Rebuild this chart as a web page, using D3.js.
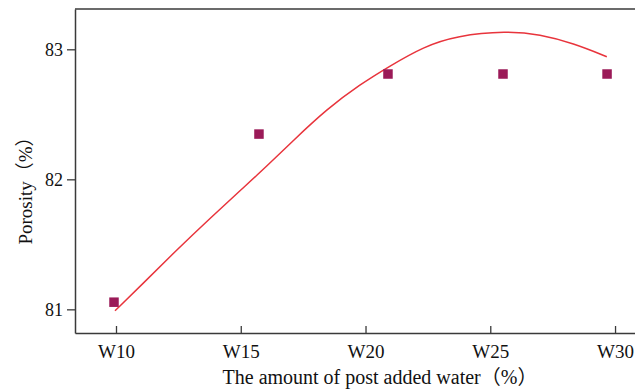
<!DOCTYPE html>
<html>
<head>
<meta charset="utf-8">
<script src="https://cdn.jsdelivr.net/npm/d3@7"></script>
<style>
  html, body { margin: 0; padding: 0; background: #fff; }
  svg { display: block; }
  text { font-family: "Liberation Serif", "Times New Roman", "Noto Sans CJK SC", serif; fill: #111; }
</style>
</head>
<body>
<svg id="chart" width="635" height="390"></svg>
<script>
// ---- data ----
const tickValues = [10, 15, 20, 25, 30];
const tickLabels = ["W10", "W15", "W20", "W25", "W30"];
const yTicks = [81, 82, 83];

// measured points (x in % post-added water, y porosity %)
const pointX = [9.92, 15.73, 20.90, 25.51, 29.68];
const pointY = [81.055, 82.348, 82.81, 82.81, 82.81];

// fitted curve
const curveX = [9.96, 11.09, 12.43, 13.77, 15.10, 16.04, 17.11, 18.45, 19.78, 20.98, 22.32, 23.66, 25.66, 26.99, 28.33, 29.67];
const curveY = [80.989, 81.20, 81.456, 81.70, 81.935, 82.10, 82.30, 82.54, 82.73, 82.872, 83.02, 83.105, 83.141, 83.115, 83.046, 82.943];

const xTitle = "The amount of post added water（%）";
const yTitle = "Porosity（%）";

// ---- layout ----
const mLeft = 75, mTop = 9, mBottom = 333, mRight = 635;

const x = d3.scaleLinear().domain([8.357, 30.8]).range([mLeft, mRight]);
const y = d3.scaleLinear().domain([80.818, 83.31]).range([mBottom, mTop]);

const svg = d3.select("#chart");
const axisColor = "#3a3a3a";

// frame top line
svg.append("line").attr("x1", mLeft).attr("x2", mRight).attr("y1", mTop).attr("y2", mTop)
  .attr("stroke", axisColor).attr("stroke-width", 1.5);

// x axis (ticks inward)
const xAxis = d3.axisBottom(x).tickValues(tickValues)
  .tickFormat((d, i) => tickLabels[i]).tickSizeInner(-7).tickSizeOuter(0).tickPadding(12);
const gx = svg.append("g").attr("transform", `translate(0,${mBottom})`).call(xAxis);
gx.select(".domain").attr("stroke", axisColor).attr("stroke-width", 1.5);
gx.selectAll(".tick line").attr("stroke", axisColor).attr("stroke-width", 1.3);
gx.selectAll(".tick text").style("font-size", "19px").attr("fill", "#111");

// y axis (ticks outward)
const yAxis = d3.axisLeft(y).tickValues(yTicks).tickFormat(d3.format("d"))
  .tickSizeInner(8).tickSizeOuter(0).tickPadding(4);
const gy = svg.append("g").attr("transform", `translate(${mLeft},0)`).call(yAxis);
gy.select(".domain").attr("stroke", axisColor).attr("stroke-width", 1.5);
gy.selectAll(".tick line").attr("stroke", axisColor).attr("stroke-width", 1.3);
gy.selectAll(".tick text").style("font-size", "18px").attr("fill", "#111");

// fitted curve
const curveData = curveX.map((v, i) => [v, curveY[i]]);
svg.append("path")
  .datum(curveData)
  .attr("fill", "none")
  .attr("stroke", "#e8343c")
  .attr("stroke-width", 1.5)
  .attr("d", d3.line().x(d => x(d[0])).y(d => y(d[1])).curve(d3.curveBasis));

// points
const s = 9.5;
svg.selectAll("rect.pt")
  .data(pointX.map((v, i) => [v, pointY[i]]))
  .join("rect")
  .attr("class", "pt")
  .attr("x", d => x(d[0]) - s / 2)
  .attr("y", d => y(d[1]) - s / 2)
  .attr("width", s).attr("height", s)
  .attr("fill", "#9b1a58");

// titles
svg.append("text")
  .attr("x", 380).attr("y", 384)
  .attr("text-anchor", "middle")
  .style("font-size", "20px")
  .text(xTitle);

svg.append("text")
  .attr("transform", "translate(32,186) rotate(-90)")
  .attr("text-anchor", "middle")
  .style("font-size", "19px")
  .text(yTitle);
</script>
</body>
</html>
